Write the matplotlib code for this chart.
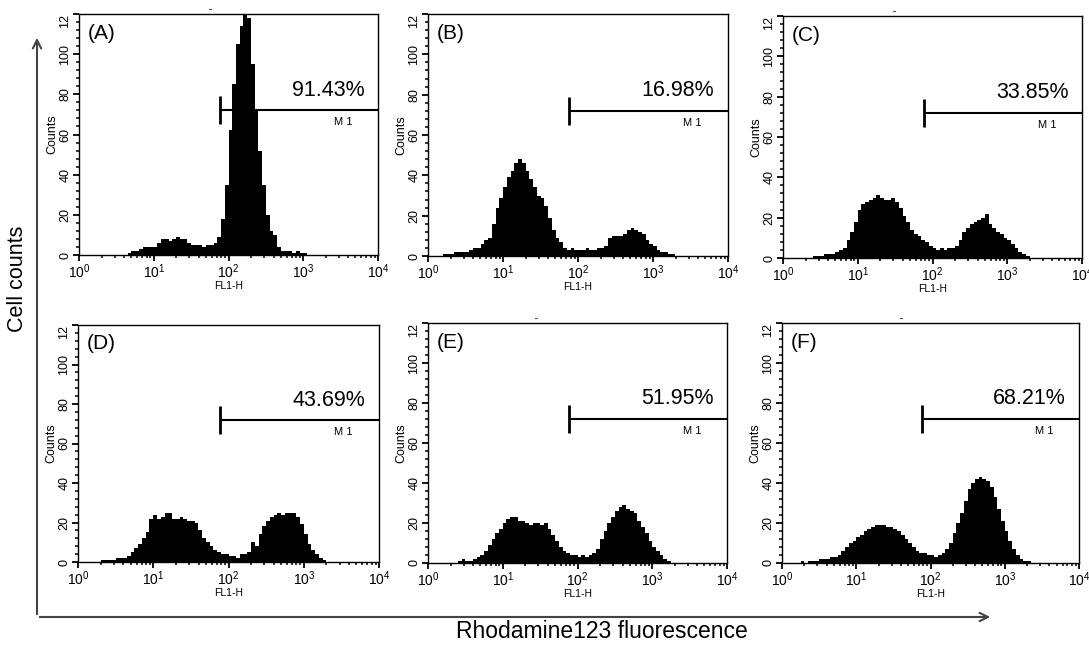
import numpy as np
import matplotlib
matplotlib.use("Agg")
import matplotlib.pyplot as plt
from matplotlib.patches import FancyArrowPatch
from matplotlib.ticker import FixedLocator, LogLocator, NullFormatter, MultipleLocator

plt.rcParams['font.family'] = ['Liberation Sans', 'DejaVu Sans']

# ---------------- data ----------------
# histogram bins: 80 bins, each 1/20 decade, from 10^0 to 10^4
n_bins = 80
panel_labels = ["(A)", "(B)", "(C)", "(D)", "(E)", "(F)"]
m1_percent = ["91.43%", "16.98%", "33.85%", "43.69%", "51.95%", "68.21%"]
gate_start = 76.0   # FL1-H channel where M1 begins
gate_level = 72     # counts level of M1 bar

counts_A = [0]*13 + [1, 2, 2, 3, 4, 4, 4, 4, 6, 8, 8, 7, 8, 9, 8, 8, 6, 5, 5, 5, 4, 5, 5, 6,
                    9, 18, 35, 62, 85, 105, 114, 125, 118, 95, 72, 52, 35, 20, 12, 10, 4, 2,
                    2, 2, 1, 2, 1, 1] + [0]*19
counts_B = [0]*4 + [1, 1, 1, 2, 2, 2, 2, 3, 4, 4, 6, 8, 9, 16, 24, 29, 34, 39, 42, 46, 48, 46,
                    42, 38, 34, 30, 29, 25, 19, 13, 9, 7, 4, 3, 4, 3, 3, 3, 4, 3, 3, 4, 4, 5, 9,
                    10, 10, 10, 11, 13, 14, 13, 12, 11, 8, 6, 5, 3, 2, 2, 1, 1] + [0]*14
counts_C = [0]*8 + [1, 1, 1, 2, 2, 2, 3, 4, 5, 9, 13, 18, 24, 27, 28, 29, 30, 31, 30, 29, 29,
                    30, 28, 25, 21, 18, 14, 12, 11, 9, 8, 6, 5, 4, 5, 4, 5, 5, 6, 9, 13, 15, 17,
                    18, 19, 20, 22, 17, 15, 13, 12, 10, 9, 7, 5, 3, 2, 1] + [0]*14
counts_D = [0]*6 + [1, 1, 1, 1, 2, 2, 2, 3, 5, 7, 9, 12, 15, 22, 24, 22, 23, 25, 25, 22, 22,
                    23, 22, 21, 21, 20, 16, 12, 10, 8, 6, 5, 4, 4, 3, 3, 2, 4, 4, 5, 10, 8, 14,
                    18, 21, 23, 24, 25, 24, 25, 25, 25, 23, 19, 14, 9, 6, 4, 2, 1] + [0]*14
counts_E = [0]*8 + [1, 2, 1, 1, 2, 3, 4, 6, 9, 12, 15, 17, 20, 22, 23, 23, 21, 21, 20, 19, 20,
                    20, 19, 20, 17, 14, 11, 8, 6, 5, 4, 4, 3, 4, 3, 4, 5, 7, 12, 16, 20, 23, 26,
                    28, 29, 27, 26, 25, 21, 18, 15, 11, 8, 6, 4, 2, 1] + [0]*15
counts_F = [0]*5 + [1, 0, 1, 1, 1, 2, 2, 2, 3, 3, 4, 6, 8, 10, 11, 13, 14, 16, 17, 18, 19, 19,
                    19, 18, 18, 17, 16, 14, 12, 10, 8, 6, 5, 5, 4, 4, 3, 4, 5, 7, 10, 15, 20, 25,
                    31, 37, 40, 42, 43, 42, 41, 38, 33, 27, 21, 16, 11, 7, 4, 2, 1, 1] + [0]*13

all_counts = [counts_A, counts_B, counts_C, counts_D, counts_E, counts_F]

x_ticks = [1, 10, 100, 1000, 10000]
x_ticklabels = [r"$\mathregular{10^{0}}$", r"$\mathregular{10^{1}}$", r"$\mathregular{10^{2}}$",
                r"$\mathregular{10^{3}}$", r"$\mathregular{10^{4}}$"]
y_ticks = [0, 20, 40, 60, 80, 100, 120]
y_ticklabels = ["0", "20", "40", "60", "80", "100", "12"]

# ---------------- layout ----------------
W, H = 1089, 648
fig = plt.figure(figsize=(W / 100, H / 100), dpi=100)

# axes boxes in pixel coords (left, right, top, bottom)
boxes = [(79, 378, 14, 255), (428, 728, 14, 256), (783, 1082, 16, 258),
         (78, 379, 325, 562), (428, 727, 323, 563), (782, 1079, 323, 563)]
dash_x = [10**1.75, None, 10**1.48, None, 10**1.45, 10**1.6]

edges = np.logspace(0, 4, n_bins + 1)

for i, (l, r, t, b) in enumerate(boxes):
    ax = fig.add_axes([l / W, 1 - b / H, (r - l) / W, (b - t) / H])
    ax.stairs(np.array(all_counts[i], dtype=float), edges, fill=True,
              color="black", linewidth=0)
    ax.set_xscale("log")
    ax.set_xlim(1, 10000)
    ax.set_ylim(0, 120)
    ax.xaxis.set_major_locator(FixedLocator(x_ticks))
    ax.set_xticklabels(x_ticklabels, fontsize=10)
    ax.xaxis.set_minor_locator(LogLocator(base=10, subs=np.arange(2, 10)))
    ax.xaxis.set_minor_formatter(NullFormatter())
    ax.yaxis.set_major_locator(FixedLocator(y_ticks))
    ax.set_yticklabels(y_ticklabels, fontsize=9)
    ax.yaxis.set_minor_locator(MultipleLocator(4))
    for j, lab in enumerate(ax.get_yticklabels()):
        lab.set_rotation(90)
        lab.set_ha("right")
        lab.set_va("top" if j == len(y_ticks) - 1 else "center")
    ax.tick_params(axis="both", which="major", length=4, width=1.3, direction="out", pad=1.5)
    ax.tick_params(axis="both", which="minor", length=2.5, width=1.1, direction="out")
    for s in ax.spines.values():
        s.set_linewidth(1.0)
    ax.set_ylabel("Counts", fontsize=9, labelpad=1)
    ax.set_xlabel("FL1-H", fontsize=7.5, labelpad=0)

    # panel label
    ax.text(0.03, 0.96, panel_labels[i], transform=ax.transAxes, fontsize=15,
            ha="left", va="top")
    # M1 gate
    ax.plot([gate_start, 10000], [gate_level, gate_level], color="black", lw=1.5,
            clip_on=False, solid_capstyle="butt")
    ax.plot([gate_start, gate_start], [gate_level - 7, gate_level + 7], color="black",
            lw=2.0, solid_capstyle="butt")
    ax.text(10**3.53, gate_level - 6, "M 1", fontsize=8, ha="center", va="center")
    ax.text(10**3.82, gate_level + 10, m1_percent[i], fontsize=15.5, ha="right", va="center")
    if dash_x[i] is not None:
        ax.plot([dash_x[i] * 0.97, dash_x[i] * 1.03], [122.5, 122.5], color="#555555",
                lw=0.8, clip_on=False)

# global axis arrows and labels
corner = (37 / W, 1 - 617 / H)
fig.add_artist(FancyArrowPatch(corner, (37 / W, 1 - 35 / H), transform=fig.transFigure,
                               arrowstyle="->,head_length=6,head_width=3",
                               mutation_scale=1, color="#444444", lw=1.5))
fig.add_artist(FancyArrowPatch(corner, (993 / W, 1 - 617 / H), transform=fig.transFigure,
                               arrowstyle="->,head_length=6,head_width=3",
                               mutation_scale=1, color="#444444", lw=1.5))
fig.text(18 / W, 1 - 279 / H, "Cell counts", rotation=90, fontsize=15.5,
         ha="center", va="center")
fig.text(602 / W, 1 - 632 / H, "Rhodamine123 fluorescence", fontsize=16.5,
         ha="center", va="center")

fig.savefig("out.png", dpi=100)
